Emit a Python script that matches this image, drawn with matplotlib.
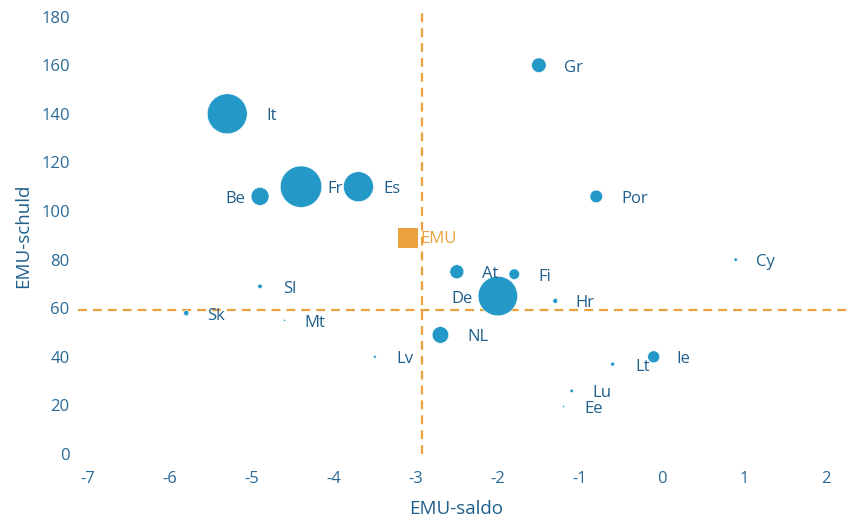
import matplotlib
matplotlib.use('Agg')
import matplotlib.pyplot as plt

# ── data ──────────────────────────────────────────────────────────────────────
countries = ['It', 'Be', 'Fr', 'Es', 'Gr', 'Por', 'Cy', 'At', 'Fi', 'De',
             'Hr', 'NL', 'Sl', 'Sk', 'Mt', 'Lv', 'Lt', 'Ie', 'Lu', 'Ee']
saldo = [-5.3, -4.9, -4.4, -3.7, -1.5, -0.8, 0.9, -2.5, -1.8, -2.0,
         -1.3, -2.7, -4.9, -5.8, -4.6, -3.5, -0.6, -0.1, -1.1, -1.2]
schuld = [140, 106, 110, 110, 160, 106, 80, 75, 74, 65,
          63, 49, 69, 58, 55, 40, 37, 40, 26, 19.5]
bubble = [400, 81, 430, 225, 53, 40, 3, 49, 28, 390,
          6, 69, 5, 7, 1, 2, 4, 36, 3, 1]

emu_saldo = -3.1
emu_schuld = 89

ref_saldo = -2.93
ref_schuld = 59.3

# label offsets in pixels (default: right of the bubble)
label_dx = {'It': 44, 'Be': -25, 'Fr': 34, 'Es': 33, 'Gr': 35, 'Por': 38,
            'At': 33, 'De': -36, 'NL': 38}

BLUE = '#2499C8'
ORANGE = '#E9A23E'
TEXT = '#1F5F8C'
TICK = '#2A6A98'

plt.rcParams['font.family'] = ['Open Sans', 'DejaVu Sans']

fig = plt.figure(figsize=(8.48, 5.21), dpi=100)
ax = fig.add_axes([78 / 848, 67 / 521, 770 / 848, 442 / 521])

ax.set_xlim(-7.12, 2.27)
ax.set_ylim(0, 181.9)

# reference lines
ax.axvline(ref_saldo, color=ORANGE, lw=1.6, dashes=(4.0, 2.7), zorder=1)
ax.axhline(ref_schuld, color=ORANGE, lw=1.6, dashes=(4.0, 2.7), zorder=1)

# bubbles (area ~ value)
ax.scatter(saldo, schuld, s=[2.07 * b for b in bubble], color=BLUE,
           edgecolors='white', linewidths=0.4, zorder=3)
for c, x, y in zip(countries, saldo, schuld):
    ax.annotate(c, (x, y), xytext=(label_dx.get(c, 30), -2.5),
                textcoords='offset pixels', ha='center', va='center',
                fontsize=12, color=TEXT, zorder=4)

# EMU average
ax.scatter([emu_saldo], [emu_schuld], marker='s', s=222, color=ORANGE,
           linewidths=0, zorder=3)
ax.annotate('EMU', (emu_saldo, emu_schuld), xytext=(31, -1),
            textcoords='offset pixels', ha='center', va='center',
            fontsize=12, color=ORANGE, zorder=4)

ax.set_xticks(range(-7, 3))
ax.set_xticklabels([str(v) for v in range(-7, 3)])
ax.set_yticks(range(0, 181, 20))
for s in ax.spines.values():
    s.set_visible(False)
ax.tick_params(axis='both', length=0, labelsize=12, colors=TICK)
ax.tick_params(axis='x', pad=12)
ax.tick_params(axis='y', pad=6)

fig.text(456 / 848, 1 - 509 / 521, 'EMU-saldo', ha='center', va='center',
         fontsize=13.5, color=TEXT)
fig.text(23 / 848, 1 - 236 / 521, 'EMU-schuld', ha='center', va='center',
         rotation=90, fontsize=13.5, color=TEXT)

fig.savefig('out.png', dpi=100)
